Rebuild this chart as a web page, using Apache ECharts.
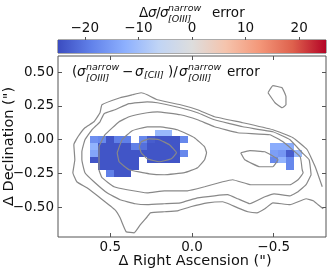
<!DOCTYPE html>
<html>
<head>
<meta charset="utf-8">
<style>html,body{margin:0;padding:0;background:#fff}#c{width:335px;height:279px}</style>
<script src="https://cdn.jsdelivr.net/npm/echarts@6/dist/echarts.min.js"></script>
</head>
<body>
<div id="c"></div>
<script>
// Right ascension of each pixel column, declination of each row
const leftColumns = [0.60,0.55,0.50,0.45,0.40,0.35,0.30,0.25,0.20,0.15,0.10,0.05];
const leftRows = [0.05,0,-0.05,-0.10,-0.15,-0.20,-0.25];
const leftValues = [
  [null,null,null,null,null,null,null,null,-11,-11,null,null],
  [-17,-18,-24,-19,-19,null,-18,-23,-24,-24,-24,-18],
  [-12,-24,-24,-24,-24,-19,-21,-24,-24,-24,-24,null],
  [-14,-24,-24,-24,-24,-24,-24,-24,-24,-24,-24,-18],
  [-24,-24,-24,-24,-24,-24,null,-24,-24,-24,-24,null],
  [null,-24,-24,-24,-24,-24,null,null,null,null,null,null],
  [null,null,-19,-24,-24,null,null,null,null,null,null,null]
];
const rightColumns = [-0.50,-0.55,-0.60,-0.65];
const rightRows = [-0.05,-0.10,-0.15,-0.20];
const rightValues = [
  [-13,-13,-13,null],
  [-15,-16,-23,-11],
  [-18,-12,-18,null],
  [null,null,-18,null]
];
// Contours [RA, Dec]
const contourA = [[-0.797,-0.348],[-0.754,-0.200],[-0.705,-0.074],[-0.618,0.015],[-0.495,0.074],[-0.311,0.126],[-0.138,0.170],[-0.034,0.222],[0.071,0.259],[0.212,0.296],[0.274,0.333],[0.311,0.348],[0.366,0.333],[0.440,0.311],[0.551,0.259],[0.563,0.200],[0.600,0.133],[0.655,0.089],[0.698,0.022],[0.723,-0.037],[0.717,-0.148],[0.729,-0.244],[0.705,-0.311],[0.643,-0.356],[0.563,-0.430],[0.471,-0.519],[0.440,-0.578],[0.403,-0.681],[0.354,-0.689],[0.317,-0.630],[0.274,-0.570],[0.255,-0.541],[0.169,-0.533],[0.089,-0.526],[0.009,-0.496],[-0.095,-0.467],[-0.188,-0.459],[-0.237,-0.481],[-0.280,-0.504],[-0.342,-0.533],[-0.397,-0.541],[-0.446,-0.511],[-0.495,-0.467],[-0.600,-0.481],[-0.698,-0.437],[-0.742,-0.452],[-0.772,-0.481],[-0.803,-0.511]];
const contourB = [[-0.729,-0.259],[-0.717,-0.148],[-0.674,-0.096],[-0.600,0],[-0.495,0.059],[-0.311,0.096],[-0.138,0.148],[-0.034,0.200],[0.071,0.237],[0.212,0.274],[0.274,0.281],[0.385,0.267],[0.471,0.222],[0.538,0.193],[0.563,0.133],[0.612,0.074],[0.655,0],[0.674,-0.089],[0.674,-0.148],[0.655,-0.244],[0.600,-0.311],[0.520,-0.393],[0.440,-0.444],[0.348,-0.474],[0.274,-0.481],[0.169,-0.474],[0.071,-0.467],[-0.034,-0.430],[-0.138,-0.415],[-0.218,-0.407],[-0.280,-0.437],[-0.354,-0.474],[-0.446,-0.422],[-0.502,-0.400],[-0.600,-0.415],[-0.649,-0.385],[-0.698,-0.333],[-0.729,-0.259]];
const contourC = [[-0.674,-0.222],[-0.662,-0.126],[-0.557,-0.015],[-0.477,0.037],[-0.280,0.052],[-0.138,0.096],[-0.034,0.148],[0.071,0.185],[0.212,0.207],[0.274,0.200],[0.385,0.170],[0.446,0.133],[0.532,0.037],[0.569,-0.052],[0.569,-0.222],[0.551,-0.281],[0.477,-0.348],[0.397,-0.370],[0.274,-0.393],[0.169,-0.378],[0.028,-0.378],[-0.077,-0.348],[-0.188,-0.311],[-0.249,-0.296],[-0.360,-0.333],[-0.483,-0.333],[-0.600,-0.333],[-0.649,-0.296],[-0.680,-0.244],[-0.674,-0.222]];
const contourD = [[0.458,-0.096],[0.428,0],[0.366,0.067],[0.274,0.096],[0.194,0.096],[0.089,0.074],[-0.015,0.015],[-0.077,-0.052],[-0.089,-0.096],[-0.077,-0.148],[-0.034,-0.207],[0.046,-0.244],[0.169,-0.259],[0.262,-0.252],[0.385,-0.222],[0.446,-0.163],[0.458,-0.096]];
const contourE = [[0.323,-0.052],[0.311,-0.015],[0.262,0.007],[0.200,0],[0.138,-0.037],[0.095,-0.096],[0.126,-0.141],[0.200,-0.163],[0.274,-0.141],[0.311,-0.096],[0.323,-0.052]];
const contourF = [[-0.298,-0.096],[-0.354,-0.081],[-0.446,-0.089],[-0.526,-0.148],[-0.495,-0.200],[-0.415,-0.200],[-0.323,-0.148],[-0.298,-0.096]];
const contourG = [[-0.465,0.348],[-0.495,0.400],[-0.551,0.385],[-0.575,0.319],[-0.575,0.259],[-0.551,0.237],[-0.508,0.274],[-0.465,0.348]];
const contours = [contourA,contourB,contourC,contourD,contourE,contourF,contourG];

const xTicks = [0.5,0,-0.5];
const yTicks = [0.5,0.25,0,-0.25,-0.5];
const barTicks = [-20,-10,0,10,20];
const barRange = [-25,25];
const cellSize = 0.05;
const coolwarm = ['#3b4cc0','#6282ea','#8db0fe','#c0d4f5','#dddddd','#f5c4ad','#f4987a','#de614d','#b40426'];

const FONT = '"DejaVu Sans"';
const colorOf = v => echarts.color.lerp((v-barRange[0])/(barRange[1]-barRange[0]), coolwarm);
const minus = s => String(s).replace('-','\u2212');
const cells = [];
[[leftColumns,leftRows,leftValues],[rightColumns,rightRows,rightValues]].forEach(([cs,rs,vs])=>{
  rs.forEach((r,i)=>cs.forEach((c,j)=>{ if(vs[i][j]!==null) cells.push([c,r,vs[i][j]]); }));
});
const AX = '#555555';
const chart = echarts.init(document.getElementById('c'),null,{renderer:'canvas'});

function txt(text,x,y,size,italic){
  return {type:'text',silent:true,z:10,style:{text,x,y,fill:'#111',verticalAlign:'middle',align:'left',
    font:(italic?'italic ':'')+size+'px '+FONT}};
}
const textPieces = [
  txt('\u0394',139,13,13.5), txt('\u03c3',148,13,13.5,true), txt('/',156,13,13.5), txt('\u03c3',160,13,13.5,true),
  txt('narrow',168,9,9.5,true), txt('[OIII]',168,20,9.5,true), txt('error',212,13,13.5),
  txt('(',72,72,13.5), txt('\u03c3',77,72,13.5,true), txt('narrow',86,68,9.5,true), txt('[OIII]',86,79,9.5,true),
  txt('\u2212',122,72,13.5), txt('\u03c3',135,72,13.5,true), txt('[CII]',144,76,9.5,true),
  txt(')/',168,72,13.5), txt('\u03c3',179,72,13.5,true), txt('narrow',188,68,9.5,true), txt('[OIII]',188,79,9.5,true),
  txt('error',227,72,13.5)
];
const noLine = {show:false,onZero:false};
const hiddenAxis = {show:true,axisLabel:{show:false},axisLine:noLine,splitLine:{show:false}};
chart.setOption({
  animation:false,
  textStyle:{fontFamily:FONT},
  graphic:textPieces,
  grid:[
    {left:58,right:9,top:56,bottom:42,show:true,borderColor:AX,borderWidth:1,backgroundColor:'#fff',outerBoundsMode:'none',containLabel:false},
    {left:58,right:9,top:40,height:13,show:true,borderColor:AX,borderWidth:1,outerBoundsMode:'none',containLabel:false}
  ],
  xAxis:[
    {gridIndex:0,type:'value',inverse:true,min:-0.82,max:0.82,position:'bottom',
     name:'\u0394 Right Ascension (")',nameLocation:'middle',nameGap:17,nameMoveOverlap:false,nameTextStyle:{fontSize:14.5,color:'#111',fontFamily:FONT,padding:[0,0,0,6]},
     axisLine:noLine,splitLine:{show:false},
     axisTick:{inside:true,length:4,lineStyle:{color:AX},customValues:xTicks},
     axisLabel:{fontSize:13.5,color:'#111',margin:3,fontFamily:FONT,customValues:xTicks,formatter:v=>minus(v.toFixed(1))}},
    Object.assign({gridIndex:0,type:'value',inverse:true,min:-0.82,max:0.82,position:'top',
     axisTick:{inside:true,length:4,lineStyle:{color:AX},customValues:xTicks}},hiddenAxis),
    {gridIndex:1,type:'value',min:barRange[0],max:barRange[1],position:'top',
     axisLine:noLine,splitLine:{show:false},
     axisTick:{inside:false,length:3,lineStyle:{color:AX},customValues:barTicks},
     axisLabel:{fontSize:13.5,color:'#111',margin:5,fontFamily:FONT,customValues:barTicks,formatter:v=>minus(v)}}
  ],
  yAxis:[
    {gridIndex:0,type:'value',min:-0.72,max:0.62,position:'left',
     name:'\u0394 Declination (")',nameLocation:'middle',nameGap:41,nameMoveOverlap:false,nameTextStyle:{fontSize:14.5,color:'#111',fontFamily:FONT},
     axisLine:noLine,splitLine:{show:false},
     axisTick:{inside:true,length:4,lineStyle:{color:AX},customValues:yTicks},
     axisLabel:{fontSize:13.5,color:'#111',margin:4,fontFamily:FONT,customValues:yTicks,formatter:v=>minus(v.toFixed(2))}},
    Object.assign({gridIndex:0,type:'value',min:-0.72,max:0.62,position:'right',
     axisTick:{inside:true,length:4,lineStyle:{color:AX},customValues:yTicks}},hiddenAxis),
    {gridIndex:1,type:'value',min:0,max:1,show:false}
  ],
  series:[
    {type:'custom',xAxisIndex:2,yAxisIndex:2,silent:true,z:1,clip:false,data:[[barRange[0],0,barRange[1],1]],
     encode:{x:[0,2],y:[1,3]},
     renderItem:(p,api)=>{
       const a=api.coord([api.value(0),api.value(1)]), b=api.coord([api.value(2),api.value(3)]);
       return {type:'rect',shape:{x:a[0],y:b[1],width:b[0]-a[0],height:a[1]-b[1]},
         style:{fill:new echarts.graphic.LinearGradient(0,0,1,0,coolwarm.map((color,i)=>({offset:i/(coolwarm.length-1),color})))}};
     }},
    {type:'custom',xAxisIndex:0,yAxisIndex:0,silent:true,z:2,data:cells,encode:{x:0,y:1},
     renderItem:(p,api)=>{
       const c=api.coord([api.value(0),api.value(1)]), s=api.size([cellSize,cellSize]);
       const w=Math.abs(s[0]), h=Math.abs(s[1]);
       const x0=Math.round(c[0]-w/2), x1=Math.round(c[0]+w/2), y0=Math.round(c[1]-h/2), y1=Math.round(c[1]+h/2);
       return {type:'rect',shape:{x:x0,y:y0,width:x1-x0,height:y1-y0},style:{fill:colorOf(api.value(2))}};
     }}
  ].concat(contours.map(data=>({type:'line',xAxisIndex:0,yAxisIndex:0,silent:true,z:3,data,
     showSymbol:false,symbol:'none',smooth:0.1,lineStyle:{color:'#888888',width:1.2}})))
});
</script>
</body>
</html>
